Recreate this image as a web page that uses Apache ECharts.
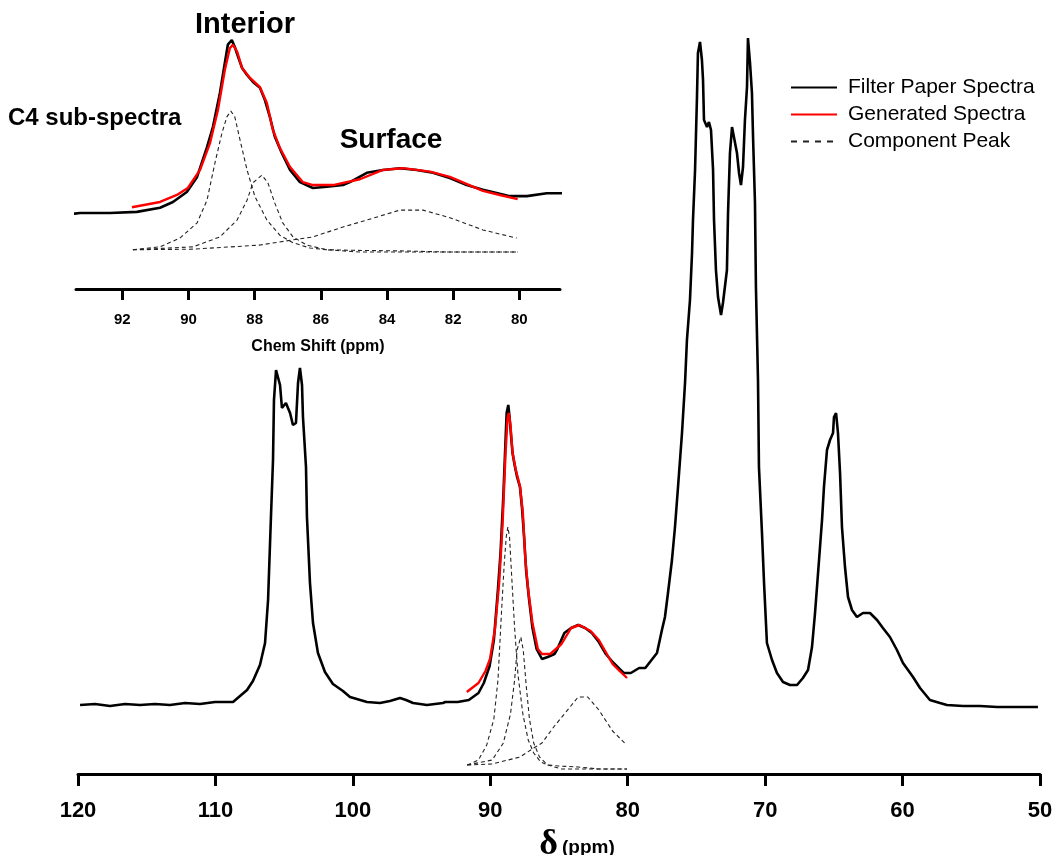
<!DOCTYPE html>
<html>
<head>
<meta charset="utf-8">
<script src="https://cdn.jsdelivr.net/npm/echarts@6/dist/echarts.min.js"></script>
<style>
  html, body { margin: 0; padding: 0; background: #fff; }
  #chart { width: 1052px; height: 855px; }
</style>
</head>
<body>
<div id="chart"></div>
<script>
// 13C CP/MAS spectrum of filter paper: [chemical shift (ppm), intensity (a.u.)]
const filterPaper = [
  [119.85,68],[118.76,69],[117.67,67],[116.58,69],[115.49,68],[114.40,69],[113.31,68],[112.21,70],
  [111.12,69],[110.03,71],[108.72,71],[107.70,83],[107.27,92],[106.76,108],[106.39,130],[106.17,173],
  [105.96,256],[105.81,313],[105.74,373],[105.59,403],[105.45,405],[105.30,388],[105.16,365],[104.87,370],
  [104.57,360],[104.36,348],[104.14,350],[103.99,390],[103.85,405],[103.70,388],[103.63,356],[103.41,306],
  [103.34,256],[103.12,190],[102.90,150],[102.54,120],[102.03,101],[101.45,89],[100.72,82],[100.21,76],
  [98.97,71],[98.03,70],[97.30,72],[96.57,75],[96.13,73],[95.62,70],[94.61,68],[93.44,70],
  [93.28,71],[92.37,71],[91.56,73],[90.86,80],[90.47,90],[90.05,107],[89.74,133],[89.44,184],
  [89.26,219],[89.05,277],[88.90,329],[88.81,360],[88.69,368],[88.60,356],[88.50,339],[88.38,320],
  [88.23,308],[88.05,296],[87.84,286],[87.69,265],[87.54,236],[87.39,202],[87.18,174],[86.93,145],
  [86.63,124],[86.24,114],[85.82,116],[85.33,119],[85.12,124],[84.61,140],[84.12,145],[83.61,148],
  [83.10,145],[82.61,140],[82.10,131],[81.59,119],[81.10,111],[80.59,104],[80.29,100],[79.77,100],
  [79.17,105],[78.72,105],[77.87,120],[77.51,143],[77.29,156],[77.07,180],[76.78,213],[76.56,246],
  [76.34,286],[76.05,340],[75.83,390],[75.69,433],[75.47,473],[75.32,520],[75.25,553],[75.10,603],
  [74.96,676],[74.89,720],[74.74,731],[74.60,713],[74.52,693],[74.45,653],[74.23,646],[74.09,651],
  [73.94,643],[73.79,603],[73.72,553],[73.58,503],[73.43,476],[73.21,458],[73.07,470],[72.78,503],
  [72.70,560],[72.56,620],[72.41,646],[72.27,645],[72.05,620],[71.90,600],[71.76,588],[71.61,606],
  [71.47,653],[71.32,686],[71.25,735],[71.10,710],[70.96,680],[70.88,636],[70.74,570],[70.67,486],
  [70.59,436],[70.52,393],[70.45,306],[70.23,240],[70.08,190],[69.87,130],[69.50,113],[69.14,100],
  [68.70,91],[68.19,88],[67.68,88],[67.25,95],[66.88,103],[66.59,126],[66.37,160],[66.15,200],
  [65.86,253],[65.72,286],[65.50,323],[65.28,333],[65.06,340],[64.99,356],[64.84,360],[64.70,340],
  [64.55,300],[64.41,246],[64.19,206],[63.97,176],[63.68,163],[63.32,156],[62.88,160],[62.37,160],
  [61.86,153],[61.43,145],[60.92,136],[60.41,123],[59.97,110],[59.24,96],[58.73,85],[58.01,73],
  [57.28,70],[56.77,68],[55.60,67],[54.37,67],[53.13,66],[51.97,66],[50.15,66]
];

// Fitted C4 envelope (sum of the component peaks)
const generated = [
  [91.71,81],[90.86,90],[90.35,102],[90.02,114],[89.65,145],[89.35,191],[89.11,248],[88.90,317],
  [88.75,354],[88.66,360],[88.53,348],[88.38,320],[88.14,303],[87.84,287],[87.63,260],[87.45,214],
  [87.24,183],[86.93,150],[86.54,124],[86.24,119],[85.63,119],[84.82,129],[84.12,145],[83.52,148],
  [82.70,142],[82.10,133],[81.10,109],[80.59,102],[80.05,95]
];

// C4 components: two interior (crystalline) lines and one broad surface line
const interiorA = [
  [91.68,8],[90.86,13],[90.26,28],[89.74,54],[89.44,93],[89.20,157],[88.99,208],[88.84,236],
  [88.72,246],[88.60,236],[88.44,196],[88.23,145],[87.99,99],[87.63,59],[87.24,33],[86.84,20],
  [86.33,11],[85.82,8],[85.03,7],[83.61,6],[82.10,4],[80.05,4]
];
const interiorB = [
  [91.68,8],[89.86,13],[89.05,30],[88.53,59],[88.23,93],[88.05,123],[87.78,136],[87.60,123],
  [87.39,88],[87.15,54],[86.84,30],[86.42,16],[85.82,8],[84.82,4],[80.05,4]
];
const surface = [
  [91.68,8],[89.86,9],[87.84,16],[86.84,25],[86.24,30],[85.33,47],[84.61,59],[83.61,76],
  [82.91,76],[82.10,63],[81.10,42],[80.08,28]
];

const insetTicks = [80, 82, 84, 86, 88, 90, 92];
const legendNames = ['Filter Paper Spectra', 'Generated Spectra', 'Component Peak'];

const SANS = "'Liberation Sans', Arial, Helvetica, sans-serif";

function spectrumSeries(name, data, axis, style) {
  return {
    name: name,
    type: 'line',
    xAxisIndex: axis,
    yAxisIndex: axis,
    data: data,
    symbol: 'none',
    clip: true,
    silent: true,
    animation: false,
    itemStyle: { color: style.color },
    lineStyle: style,
    z: style.z || 2
  };
}

const blackStyle = { color: '#000', width: 2.6 };
const redStyle = { color: '#ff0000', width: 2.4, z: 3 };
const dashStyle = { color: '#222', width: 1.1, type: [4, 3] };

const series = [];
[0, 1].forEach(function (ax) {
  series.push(spectrumSeries(legendNames[0], filterPaper, ax, blackStyle));
  series.push(spectrumSeries(legendNames[1], generated, ax, redStyle));
  [interiorA, interiorB, surface].forEach(function (comp) {
    series.push(spectrumSeries(legendNames[2], comp, ax, dashStyle));
  });
});

const chart = echarts.init(document.getElementById('chart'), null, { renderer: 'canvas' });
chart.setOption({
  backgroundColor: '#fff',
  animation: false,
  grid: [
    { left: 78, right: 12, top: 30, bottom: 81, outerBoundsMode: 'none', containLabel: false },
    { left: 76, right: 492, top: 30, bottom: 566, outerBoundsMode: 'none', containLabel: false }
  ],
  xAxis: [
    {
      gridIndex: 0, type: 'value', inverse: true, min: 50, max: 120, interval: 10,
      axisLine: { onZero: false, lineStyle: { color: '#000', width: 3 } },
      axisTick: { show: true, length: 12, lineStyle: { color: '#000', width: 3 } },
      splitLine: { show: false },
      axisLabel: { color: '#000', fontFamily: SANS, fontWeight: 'bold', fontSize: 22, margin: 26 },
      name: '{d|δ}{p|(ppm)}', nameLocation: 'middle', nameGap: 47,
      nameTextStyle: {
        padding: [0, 0, 0, 36],
        rich: {
          d: { fontFamily: "'Liberation Serif', 'DejaVu Serif', serif", fontWeight: 'bold', fontSize: 36, color: '#000' },
          p: { fontFamily: SANS, fontWeight: 'bold', fontSize: 19, color: '#000', padding: [6, 0, 0, 4] }
        }
      }
    },
    {
      gridIndex: 1, type: 'value', inverse: true, min: 78.77, max: 93.4,
      axisLine: { onZero: false, lineStyle: { color: '#000', width: 3 } },
      axisTick: { show: true, length: 11, customValues: insetTicks, lineStyle: { color: '#000', width: 3 } },
      splitLine: { show: false },
      axisLabel: { color: '#000', fontFamily: SANS, fontWeight: 'bold', fontSize: 15, margin: 23, customValues: insetTicks },
      name: 'Chem Shift (ppm)', nameLocation: 'middle', nameGap: 50,
      nameTextStyle: { color: '#000', fontFamily: SANS, fontWeight: 'bold', fontSize: 16 }
    }
  ],
  yAxis: [
    { gridIndex: 0, type: 'value', min: -1, max: 743, show: false },
    { gridIndex: 1, type: 'value', min: -59.4, max: 385.2, show: false }
  ],
  legend: {
    data: [
      legendNames[0],
      legendNames[1],
      { name: legendNames[2], lineStyle: { type: [6, 6] } }
    ],
    orient: 'vertical',
    left: 785,
    top: 72,
    itemWidth: 46,
    itemHeight: 14,
    itemGap: 6,
    selectedMode: false,
    itemStyle: { opacity: 0 },
    textStyle: { color: '#000', fontFamily: SANS, fontSize: 21, padding: [0, 0, 0, 6] }
  },
  graphic: [
    { type: 'text', x: 245, y: 25, style: { text: 'Interior', font: "bold 29px 'Liberation Sans', Arial, sans-serif", fill: '#000', align: 'center', verticalAlign: 'middle' } },
    { type: 'text', x: 8, y: 118, style: { text: 'C4 sub-spectra', font: "bold 24px 'Liberation Sans', Arial, sans-serif", fill: '#000', align: 'left', verticalAlign: 'middle' } },
    { type: 'text', x: 391, y: 140, style: { text: 'Surface', font: "bold 28px 'Liberation Sans', Arial, sans-serif", fill: '#000', align: 'center', verticalAlign: 'middle' } }
  ],
  series: series
});
</script>
</body>
</html>
